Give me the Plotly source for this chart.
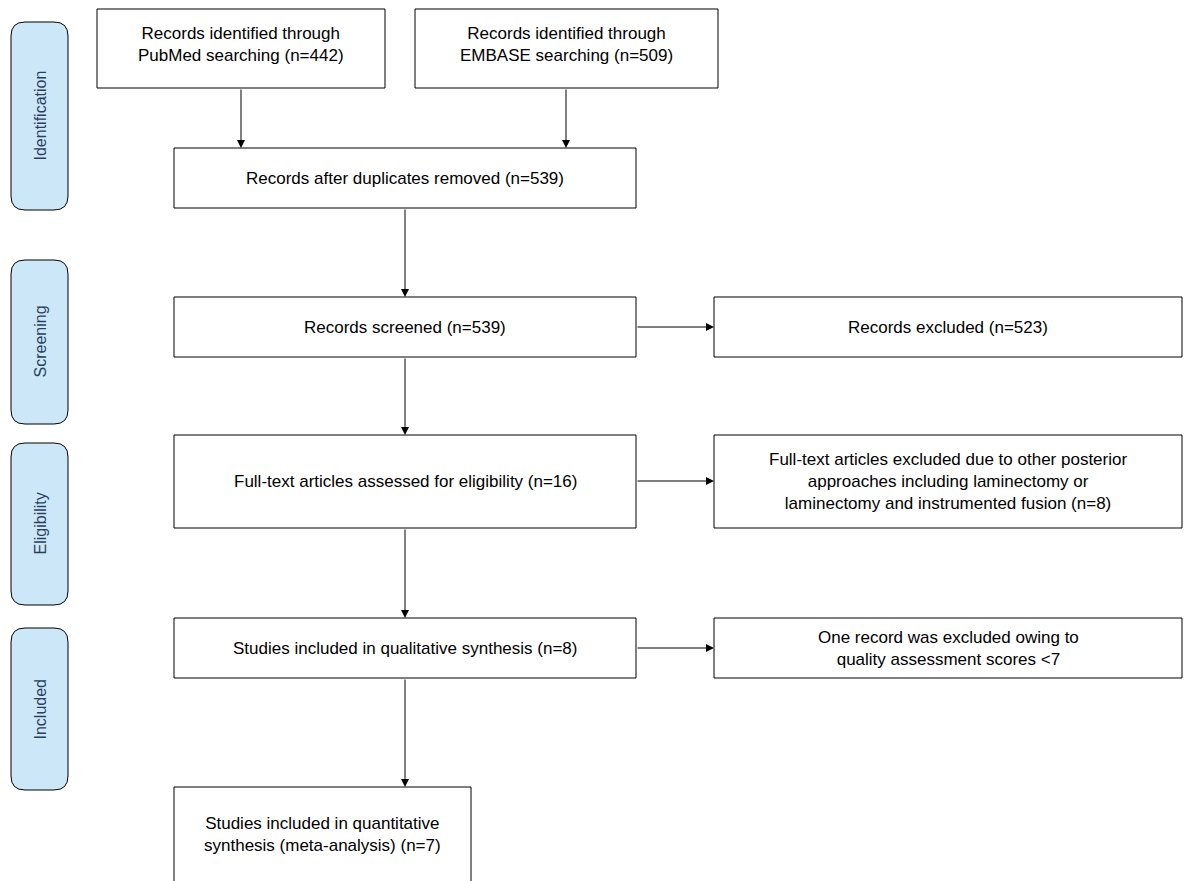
import plotly.graph_objects as go

# box texts and pixel boxes (x0, y0, x1, y1)
box_texts = [
    "Records identified through<br>PubMed searching (n=442)",
    "Records identified through<br>EMBASE searching (n=509)",
    "Records after duplicates removed (n=539)",
    "Records screened (n=539)",
    "Records excluded (n=523)",
    "Full-text articles assessed for eligibility (n=16)",
    "Full-text articles excluded due to other posterior<br>approaches including laminectomy or<br>laminectomy and instrumented fusion (n=8)",
    "Studies included in qualitative synthesis (n=8)",
    "One record was excluded owing to<br>quality assessment scores <7",
    "Studies included in quantitative<br>synthesis (meta-analysis) (n=7)",
]
box_pos = [
    (97, 9, 385, 88), (415, 9, 718, 88), (174, 148, 636, 208),
    (174, 297, 636, 357), (714, 297, 1182, 357), (174, 435, 636, 528),
    (714, 435, 1182, 528), (174, 618, 636, 678), (714, 618, 1182, 678),
    (174, 787, 471, 884),
]
text_y = [44, 44, 178, 327, 327, 481, 481, 648, 648, 834]
stage_labels = ["Identification", "Screening", "Eligibility", "Included"]
stage_pos = [(11, 22, 68, 210), (11, 260, 68, 424), (11, 443, 68, 605), (11, 628, 68, 790)]
# arrows (x_from, y_from, x_to, y_to)
arrows = [
    (241, 88, 241, 148), (566, 88, 566, 148), (405, 208, 405, 297),
    (405, 357, 405, 435), (405, 528, 405, 618), (405, 678, 405, 787),
    (636, 327, 714, 327), (636, 481, 714, 481), (636, 648, 714, 648),
]

fig = go.Figure()
font = dict(family="Liberation Sans, Arial", size=17, color="black")

for t, (x0, y0, x1, y1), ty in zip(box_texts, box_pos, text_y):
    fig.add_shape(type="rect", x0=x0, y0=y0, x1=x1, y1=y1,
                  line=dict(color="black", width=1), fillcolor="white")
    fig.add_annotation(x=(x0 + x1) / 2, y=ty, text=t, showarrow=False, font=font)

for t, (x0, y0, x1, y1) in zip(stage_labels, stage_pos):
    r = 14
    path = (f"M{x0+r},{y0} L{x1-r},{y0} Q{x1},{y0} {x1},{y0+r} L{x1},{y1-r} "
            f"Q{x1},{y1} {x1-r},{y1} L{x0+r},{y1} Q{x0},{y1} {x0},{y1-r} "
            f"L{x0},{y0+r} Q{x0},{y0} {x0+r},{y0} Z")
    fig.add_shape(type="path", path=path, line=dict(color="black", width=1),
                  fillcolor="#cce8f8")
    fig.add_annotation(x=(x0 + x1) / 2, y=(y0 + y1) / 2, text=t, textangle=-90,
                       showarrow=False, font=dict(family="Liberation Sans, Arial", size=16))

for xa, ya, xb, yb in arrows:
    fig.add_annotation(x=xb, y=yb, ax=xa, ay=ya, xref="x", yref="y", axref="x", ayref="y",
                       text="", showarrow=True, arrowhead=2, arrowsize=1.6, arrowwidth=1,
                       arrowcolor="black")

# page has an 8px body margin, so shift the ranges to keep pixel coordinates
fig.update_xaxes(range=[8, 1203], visible=False)
fig.update_yaxes(range=[889, 8], visible=False)
fig.update_layout(width=1195, height=881, margin=dict(l=0, r=0, t=0, b=0),
                  plot_bgcolor="white", paper_bgcolor="white", showlegend=False)
fig.write_html("out.html")
